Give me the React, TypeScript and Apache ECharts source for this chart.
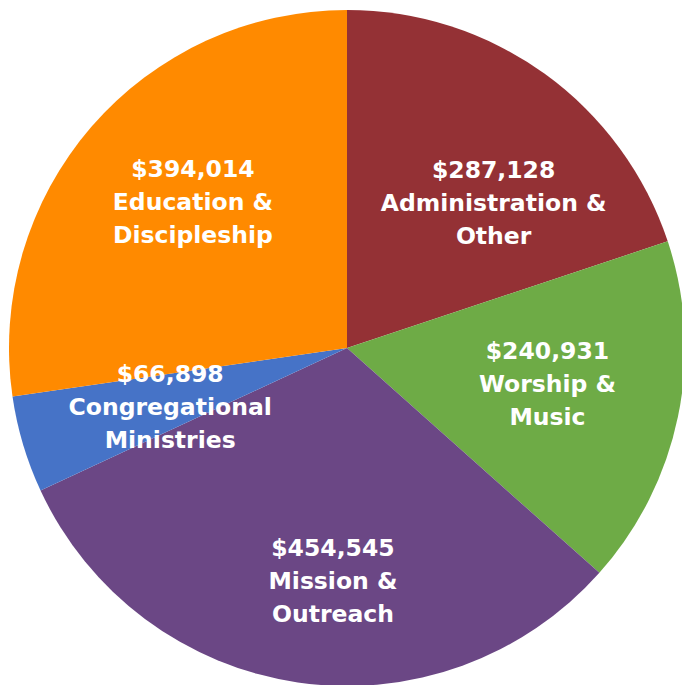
import React, { useEffect, useRef } from "react";
import * as echarts from "echarts";

const categories = [
  "Administration & Other",
  "Worship & Music",
  "Mission & Outreach",
  "Congregational Ministries",
  "Education & Discipleship",
];
const values = [287128, 240931, 454545, 66898, 394014];
const colors = ["#943135", "#6EAB46", "#6B4785", "#4673C7", "#FF8A00"];
const labelOffsets: [number, number][] = [
  [46, -6],
  [32, 1],
  [11, 63],
  [-12, 10],
  [-24, -33],
];

function wrapName(n: string): string {
  if (n.includes(" & ")) return n.replace(" & ", " &\n");
  return n.replace(" ", "\n");
}

export default function App() {
  const ref = useRef<HTMLDivElement>(null);
  useEffect(() => {
    document.body.style.margin = "0";
    const chart = echarts.init(ref.current!, null, { renderer: "svg" });
    chart.setOption({
      animation: false,
      series: [
        {
          type: "pie",
          center: [347, 348],
          radius: [0, 338],
          startAngle: 90,
          clockwise: true,
          avoidLabelOverlap: false,
          labelLine: { show: false },
          itemStyle: { borderWidth: 0 },
          emphasis: { disabled: true },
          data: categories.map((c, i) => ({
            name: c,
            value: values[i],
            itemStyle: { color: colors[i] },
            label: { offset: labelOffsets[i] },
          })),
          label: {
            show: true,
            position: "inside",
            color: "#ffffff",
            fontFamily: "DejaVu Sans",
            fontWeight: "bold",
            fontSize: 23.5,
            lineHeight: 33,
            align: "center",
            formatter: (p: any) =>
              "$" + Number(p.value).toLocaleString("en-US") + "\n" + wrapName(p.name),
          },
        },
      ],
    });
    return () => chart.dispose();
  }, []);
  return <div ref={ref} style={{ width: 682, height: 685 }} />;
}
